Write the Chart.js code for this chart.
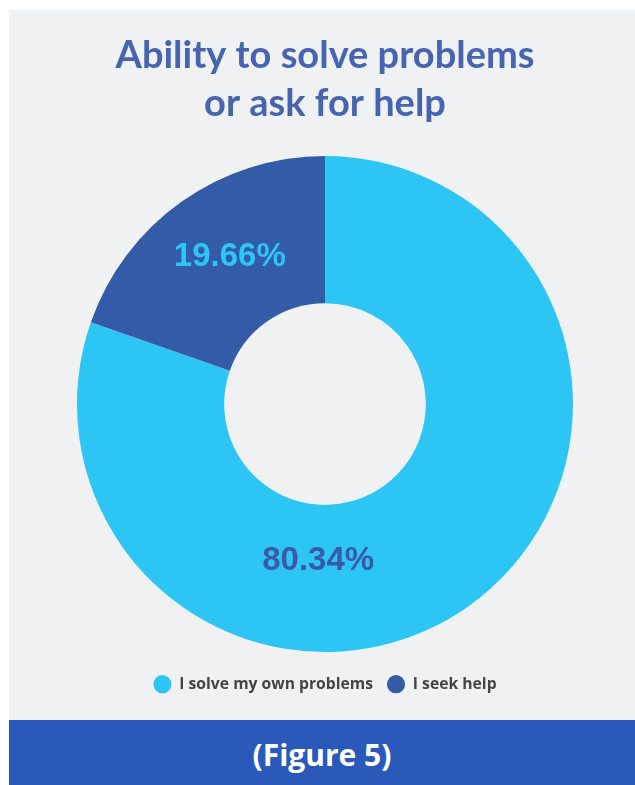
<!DOCTYPE html>
<html>
<head>
<meta charset="utf-8">
<script src="https://cdn.jsdelivr.net/npm/chart.js@4"></script>
<style>
  html, body { margin: 0; padding: 0; background: #ffffff; }
  body { width: 635px; height: 785px; position: relative; overflow: hidden; }
  #painel { position: absolute; left: 9px; top: 10px; width: 626px; height: 710px; background: #f0f1f3; }
  #rodape {
    position: absolute; left: 9px; top: 720px; width: 626px; height: 65px; background: #2b59b9;
    color: #ffffff; font: bold 30px "Open Sans", sans-serif; text-align: center; line-height: 70px;
  }
</style>
</head>
<body>
<div id="painel"><canvas id="grafico" width="626" height="710"></canvas></div>
<div id="rodape">(Figure 5)</div>
<script>
const categorias = ['I solve my own problems', 'I seek help']
const percentuais = [80.34, 19.66]
const cores = ['#2cc5f4', '#335ba8']
const coresRotulo = ['#3a5aa8', '#2cc5f4']
const titulo = ['Ability to solve problems', 'or ask for help']

// onde colocar o texto de cada fatia (angulo a partir do topo, raio relativo); null = centro da fatia
const ancoras = [{ angulo: 182.5, raio: 0.633 }, { angulo: 327, raio: 0.705 }]

// escreve o percentual dentro de cada fatia
const rotulosFatias = {
	id: 'rotulosFatias',
	afterDatasetsDraw(chart) {
		const { ctx } = chart
		const meta = chart.getDatasetMeta(0)
		ctx.save()
		ctx.font = 'bold 33px "Liberation Sans", Arial, sans-serif'
		ctx.textAlign = 'center'
		ctx.textBaseline = 'middle'
		meta.data.forEach((arco, i) => {
			let pos = arco.tooltipPosition()
			const ancora = ancoras[i]
			if (ancora) {
				const a = (ancora.angulo - 90) * Math.PI / 180
				const r = arco.outerRadius * ancora.raio
				pos = { x: arco.x + r * Math.cos(a), y: arco.y + r * Math.sin(a) }
			}
			ctx.fillStyle = coresRotulo[i]
			ctx.fillText(percentuais[i].toFixed(2) + '%', pos.x, pos.y)
		})
		ctx.restore()
	}
}

const chart = new Chart(document.getElementById('grafico'), {
	type: 'doughnut',
	data: {
		labels: categorias,
		datasets: [{
			data: percentuais,
			backgroundColor: cores,
			borderWidth: 0
		}]
	},
	options: {
		responsive: false,
		animation: false,
		radius: 248,
		cutout: 105,
		layout: { padding: { top: 0, bottom: 18, left: 6, right: 0 } },
		plugins: {
			title: {
				display: true,
				text: titulo,
				color: '#4664b0',
				font: { family: 'Lato, sans-serif', size: 38, weight: 'bold', lineHeight: 1.26 },
				padding: { top: 22, bottom: 18 }
			},
			legend: {
				position: 'bottom',
				labels: {
					usePointStyle: true,
					pointStyle: 'circle',
					boxHeight: 13,
					pointStyleWidth: 18,
					padding: 14,
					color: '#444444',
					font: { family: '"Open Sans", sans-serif', size: 15.7, weight: 'bold' }
				}
			},
			tooltip: { enabled: false }
		}
	},
	plugins: [rotulosFatias]
})
</script>
</body>
</html>
